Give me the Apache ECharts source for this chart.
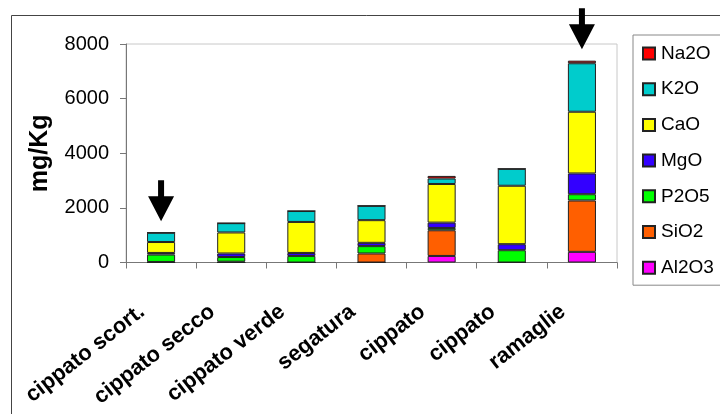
<!DOCTYPE html>
<html>
<head>
<meta charset="utf-8">
<script src="https://cdn.jsdelivr.net/npm/echarts@6/dist/echarts.min.js"></script>
<style>
  html, body { margin: 0; padding: 0; background: #fff; }
  #chart { width: 720px; height: 414px; }
</style>
</head>
<body>
<div id="chart"></div>
<script>
// Categories (biomass samples)
const categories = ['cippato scort.', 'cippato secco', 'cippato verde', 'segatura', 'cippato', 'cippato', 'ramaglie'];

// Oxide content per sample, mg/Kg
const Al2O3 = [0, 0, 0, 0, 240, 0, 390];
const SiO2  = [20, 30, 0, 330, 940, 0, 1880];
const P2O5  = [270, 170, 240, 270, 85, 450, 230];
const MgO   = [60, 130, 110, 120, 195, 220, 760];
const CaO   = [400, 770, 1135, 830, 1415, 2140, 2260];
const K2O   = [340, 340, 400, 525, 200, 620, 1775];
const Na2O  = [0, 0, 0, 0, 95, 0, 95];

// Y axis ticks
const yTicks = [0, 2000, 4000, 6000, 8000];

// Samples highlighted with an arrow
const highlighted = [0, 6];

const seriesDefs = [
  { name: 'Al2O3', data: Al2O3, color: '#FF00FF' },
  { name: 'SiO2',  data: SiO2,  color: '#FF5F00' },
  { name: 'P2O5',  data: P2O5,  color: '#00FF00' },
  { name: 'MgO',   data: MgO,   color: '#3300FF' },
  { name: 'CaO',   data: CaO,   color: '#FFFF00' },
  { name: 'K2O',   data: K2O,   color: '#00CCCC' },
  { name: 'Na2O',  data: Na2O,  color: '#FF0000' }
];

const totals = categories.map((_, i) => seriesDefs.reduce((s, d) => s + d.data[i], 0));

const FONT = 'Liberation Sans, Arial, Helvetica, sans-serif';
const arrowPath = 'path://M10,0 L16,0 L16,16 L26,16 L13,41 L0,16 L10,16 Z';

const series = seriesDefs.map((d, k) => {
  const s = {
    name: d.name,
    type: 'bar',
    stack: 'total',
    barWidth: '40%',
    data: d.data,
    itemStyle: { color: d.color, borderColor: '#222', borderWidth: 1 },
    emphasis: { disabled: true }
  };
  if (k === seriesDefs.length - 1) {
    s.markPoint = {
      symbol: arrowPath,
      symbolSize: [26, 41],
      symbolOffset: [0, -32],
      itemStyle: { color: '#000', borderWidth: 0 },
      label: { show: false },
      data: highlighted.map(i => ({ coord: [i, totals[i]] }))
    };
  }
  return s;
});

const chart = echarts.init(document.getElementById('chart'), null, { renderer: 'canvas' });
chart.setOption({
  animation: false,
  backgroundColor: '#fff',
  textStyle: { fontFamily: FONT },
  graphic: [{
    type: 'rect',
    shape: { x: 11.5, y: 15.5, width: 760, height: 460 },
    style: { fill: 'none', stroke: '#444', lineWidth: 1 },
    silent: true
  }],
  grid: {
    left: 126, right: 103, top: 44, bottom: 151.5,
    show: true, borderColor: '#c8c8c8', borderWidth: 1, backgroundColor: 'transparent'
  },
  legend: {
    orient: 'vertical',
    left: 633, top: 35,
    data: ['Na2O', 'K2O', 'CaO', 'MgO', 'P2O5', 'SiO2', 'Al2O3'],
    icon: 'rect',
    itemWidth: 12, itemHeight: 12, itemGap: 16.7,
    padding: [9, 60, 8, 9],
    borderColor: '#888', borderWidth: 1,
    textStyle: { fontSize: 19, color: '#000', fontFamily: FONT, padding: [0, 0, 0, 1] }
  },
  xAxis: {
    type: 'category',
    data: categories,
    axisLine: { lineStyle: { color: '#777', width: 1 } },
    axisTick: { show: true, length: 6, lineStyle: { color: '#777' } },
    axisLabel: {
      rotate: 38, interval: 0, margin: 32, color: '#000',
      fontSize: 22, fontWeight: 'bold', fontFamily: FONT,
      align: 'right', verticalAlign: 'middle', padding: [0, 24, 0, 0]
    }
  },
  yAxis: {
    type: 'value',
    min: yTicks[0], max: yTicks[yTicks.length - 1], interval: yTicks[1] - yTicks[0],
    name: 'mg/Kg', nameLocation: 'middle', nameGap: 73, nameRotate: 90,
    nameTextStyle: { fontSize: 25, fontWeight: 'bold', color: '#000', fontFamily: FONT },
    axisLine: { show: true, lineStyle: { color: '#777', width: 1 } },
    axisTick: { show: true, length: 6, lineStyle: { color: '#777' } },
    splitLine: { show: false },
    axisLabel: { margin: 17, fontSize: 20, color: '#000', fontFamily: FONT, formatter: v => String(v) }
  },
  series: series
});
</script>
</body>
</html>
